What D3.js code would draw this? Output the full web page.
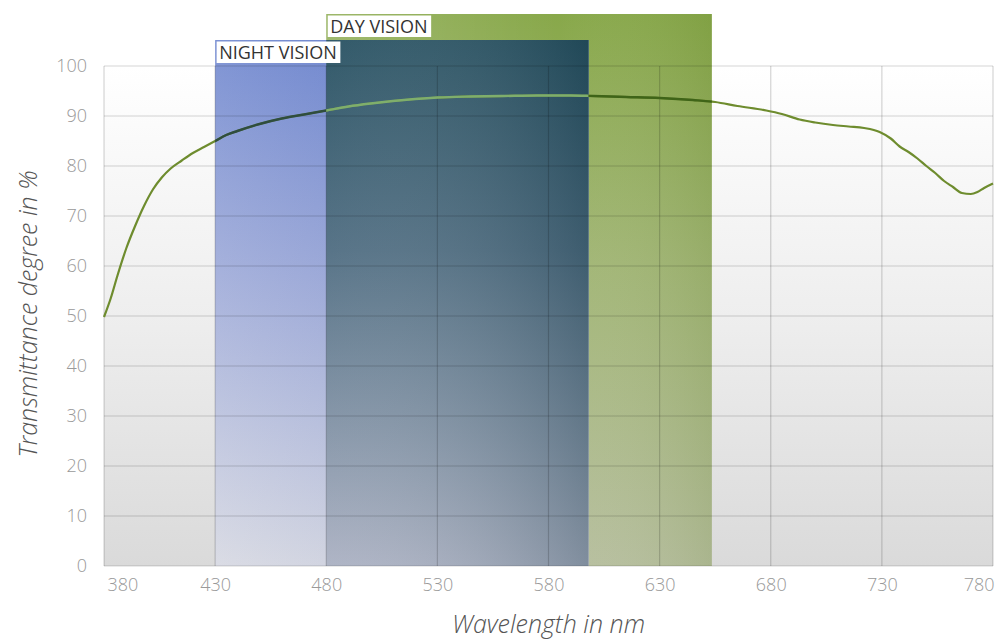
<!DOCTYPE html>
<html>
<head>
<meta charset="utf-8">
<script src="https://cdn.jsdelivr.net/npm/d3@7"></script>
<style>
  html, body { margin: 0; padding: 0; background: #ffffff; }
  svg { display: block; font-family: "Open Sans", "DejaVu Sans", sans-serif; }
</style>
</head>
<body>
<svg id="chart" width="1002" height="640"></svg>
<script>
// ---------- data ----------
const wavelengths = [380, 383, 386, 390, 394, 398, 402, 406, 410, 415, 420, 425, 430, 435, 440, 450, 460, 470, 480, 490, 500, 510, 520, 530, 545, 560, 575, 590, 600, 615, 630, 645, 655, 665, 678, 685, 693, 700, 708, 715, 722, 729, 734, 738, 742, 746, 750, 754, 758, 762, 766, 770, 773, 776, 780];
const transmittance = [49.8, 53.5, 58, 63.5, 68, 72, 75.3, 77.7, 79.5, 81.1, 82.6, 83.8, 85.0, 86.2, 87.0, 88.4, 89.5, 90.3, 91.1, 91.9, 92.5, 93.0, 93.4, 93.7, 93.9, 94.0, 94.1, 94.1, 94.0, 93.8, 93.6, 93.2, 92.8, 92.0, 91.1, 90.4, 89.3, 88.7, 88.2, 87.9, 87.6, 86.8, 85.5, 83.9, 82.8, 81.5, 80.0, 78.6, 77.0, 75.8, 74.6, 74.4, 74.8, 75.6, 76.5];

const bandNames = ["DAY VISION", "NIGHT VISION"];
const bandStart = [480, 430];
const bandEnd = [653.5, 598];
const bandTop = [110.4, 105.2];

const xTicks = [380, 430, 480, 530, 580, 630, 680, 730, 780];
const yTicks = [0, 10, 20, 30, 40, 50, 60, 70, 80, 90, 100];

const xTitle = "Wavelength in nm";
const yTitle = "Transmittance degree in %";

// ---------- layout ----------
const svg = d3.select("#chart");
const pLeft = 104, pRight = 993, pTop = 66, pBottom = 566;
const x = d3.scaleLinear().domain([380, 780]).range([pLeft, pRight]);
const y = d3.scaleLinear().domain([0, 100]).range([pBottom, pTop]);

const defs = svg.append("defs");
function vGrad(id, stops) {
  const g = defs.append("linearGradient").attr("id", id)
    .attr("x1", 0).attr("y1", 0).attr("x2", 0).attr("y2", 1);
  stops.forEach(s => g.append("stop").attr("offset", s[0]).attr("stop-color", s[1]).attr("stop-opacity", s[2] === undefined ? 1 : s[2]));
}
function hGrad(id, stops) {
  const g = defs.append("linearGradient").attr("id", id)
    .attr("x1", 0).attr("y1", 0).attr("x2", 1).attr("y2", 0);
  stops.forEach(s => g.append("stop").attr("offset", s[0]).attr("stop-color", s[1]).attr("stop-opacity", s[2] === undefined ? 1 : s[2]));
}
vGrad("bgGrad", [[0, "#ffffff"], [0.5, "#eeeeee"], [1, "#dadada"]]);
vGrad("dayGrad", [[0, "#88a84a"], [0.45, "#a2b676"], [1, "#b7bf9f"]]);
hGrad("dayH", [[0, "#ffffff", 0.18], [0.6, "#ffffff", 0.0], [1, "#4a6a10", 0.12]]);
vGrad("nightGrad", [[0, "#6780cc"], [0.45, "#98a5d6"], [1, "#d4d6e0"]]);
hGrad("nightH", [[0, "#ffffff", 0.15], [1, "#3050b0", 0.08]]);
vGrad("overGrad", [[0, "#254f60"], [0.4, "#4d6b80"], [1, "#aab0c2"]]);
hGrad("overH", [[0, "#ffffff", 0.06], [1, "#143540", 0.28]]);

// plot background
svg.append("rect").attr("x", pLeft).attr("y", pTop)
  .attr("width", pRight - pLeft).attr("height", pBottom - pTop)
  .attr("fill", "url(#bgGrad)");

// bands
const gradIds = [["dayGrad", "dayH"], ["nightGrad", "nightH"]];
bandNames.forEach((name, i) => {
  const x0 = x(bandStart[i]), x1 = x(bandEnd[i]), y0 = y(bandTop[i]);
  svg.append("rect").attr("x", x0).attr("y", y0).attr("width", x1 - x0).attr("height", y(0) - y0)
    .attr("fill", "url(#" + gradIds[i][0] + ")");
  svg.append("rect").attr("x", x0).attr("y", y0).attr("width", x1 - x0).attr("height", y(0) - y0)
    .attr("fill", "url(#" + gradIds[i][1] + ")");
});
// overlap of the two bands
const os = Math.max(bandStart[0], bandStart[1]), oe = Math.min(bandEnd[0], bandEnd[1]);
const ot = Math.min(bandTop[0], bandTop[1]);
{
  const x0 = x(os), x1 = x(oe), y0 = y(ot);
  svg.append("rect").attr("x", x0).attr("y", y0).attr("width", x1 - x0).attr("height", y(0) - y0)
    .attr("fill", "url(#overGrad)");
  svg.append("rect").attr("x", x0).attr("y", y0).attr("width", x1 - x0).attr("height", y(0) - y0)
    .attr("fill", "url(#overH)");
}

// grid
const grid = svg.append("g").attr("stroke", "#000").attr("stroke-opacity", 0.17).attr("stroke-width", 1.2);
yTicks.forEach(t => grid.append("line").attr("x1", pLeft).attr("x2", pRight).attr("y1", y(t)).attr("y2", y(t)));
xTicks.forEach(t => grid.append("line").attr("x1", x(t)).attr("x2", x(t)).attr("y1", pTop).attr("y2", pBottom));

// curve (tinted where it crosses the bands)
const pts = wavelengths.map((w, i) => [w, transmittance[i]]);
const lineGen = d3.line().x(d => x(d[0])).y(d => y(d[1])).curve(d3.curveMonotoneX);
defs.append("clipPath").attr("id", "clipNightOnly").append("rect")
  .attr("x", x(bandStart[1])).attr("y", 0).attr("width", x(os) - x(bandStart[1])).attr("height", 640);
defs.append("clipPath").attr("id", "clipOverlap").append("rect")
  .attr("x", x(os)).attr("y", 0).attr("width", x(oe) - x(os)).attr("height", 640);
defs.append("clipPath").attr("id", "clipDayOnly").append("rect")
  .attr("x", x(oe)).attr("y", 0).attr("width", x(bandEnd[0]) - x(oe)).attr("height", 640);
svg.append("path").datum(pts)
  .attr("fill", "none").attr("stroke", "#6e8c2e").attr("stroke-width", 2.2)
  .attr("stroke-linejoin", "round").attr("d", lineGen);
svg.append("path").datum(pts).attr("clip-path", "url(#clipNightOnly)")
  .attr("fill", "none").attr("stroke", "#2f4d3e").attr("stroke-width", 2.4).attr("d", lineGen);
svg.append("path").datum(pts).attr("clip-path", "url(#clipOverlap)")
  .attr("fill", "none").attr("stroke", "#7fae6c").attr("stroke-width", 2.4).attr("d", lineGen);
svg.append("path").datum(pts).attr("clip-path", "url(#clipDayOnly)")
  .attr("fill", "none").attr("stroke", "#3f6418").attr("stroke-width", 2.4).attr("d", lineGen);

// band labels
bandNames.forEach((name, i) => {
  const x0 = x(bandStart[i]), y0 = y(bandTop[i]);
  const g = svg.append("g");
  const t = g.append("text").attr("x", x0 + 4).attr("y", y0 + 18.5)
    .attr("font-size", 18).attr("fill", "#333").text(name);
  const w = t.node().getComputedTextLength();
  g.insert("rect", "text").attr("x", x0 + 1.5).attr("y", y0 + 1.5)
    .attr("width", w + 6).attr("height", 21.5).attr("fill", "#ffffff");
});

// axes
const xAxis = svg.append("g").attr("transform", `translate(0,${pBottom})`)
  .call(d3.axisBottom(x).tickValues(xTicks).tickSize(0).tickPadding(12));
const yAxis = svg.append("g").attr("transform", `translate(${pLeft},0)`)
  .call(d3.axisLeft(y).tickValues(yTicks).tickSize(0).tickPadding(17));
[xAxis, yAxis].forEach(a => {
  a.select(".domain").remove();
  a.selectAll("text").attr("font-size", 18).attr("font-weight", 300)
    .attr("fill", "#999999").attr("font-family", "\"Open Sans\", sans-serif");
});
xAxis.selectAll(".tick text").filter(d => d === 380).attr("text-anchor", "start").attr("dx", 3);
xAxis.selectAll(".tick text").filter(d => d === 780).attr("text-anchor", "end").attr("dx", 1);

// titles
svg.append("text").attr("x", (pLeft + pRight) / 2).attr("y", 633)
  .attr("text-anchor", "middle").attr("font-size", 25).attr("font-style", "italic")
  .attr("font-weight", 300).attr("fill", "#555").text(xTitle);
svg.append("text").attr("transform", `translate(37,${(pTop + pBottom) / 2 - 2}) rotate(-90)`)
  .attr("text-anchor", "middle").attr("font-size", 25).attr("font-style", "italic")
  .attr("font-weight", 300).attr("fill", "#555").text(yTitle);
</script>
</body>
</html>
